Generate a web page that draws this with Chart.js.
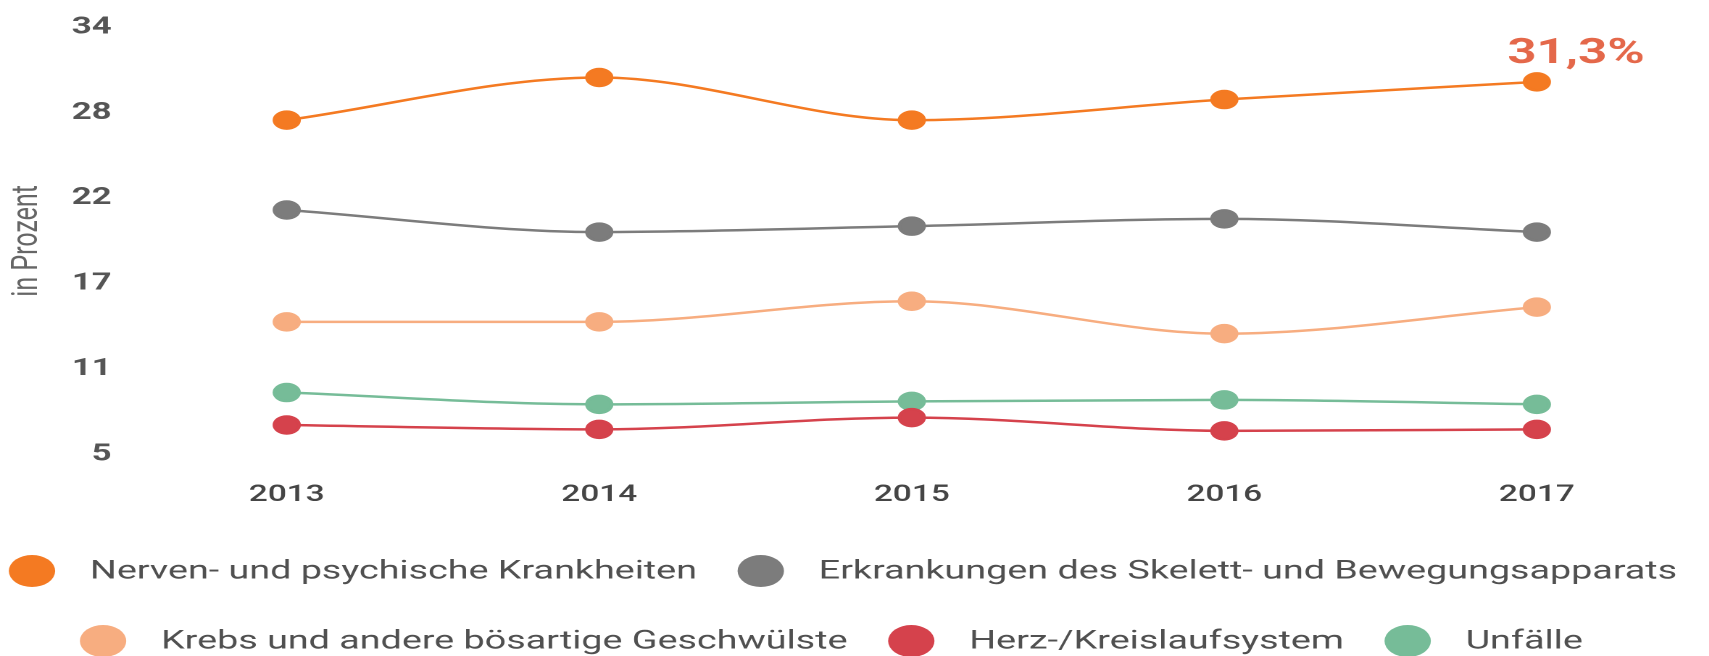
<!DOCTYPE html>
<html>
<head>
<meta charset="utf-8">
<script src="https://cdn.jsdelivr.net/npm/chart.js@4"></script>
<style>
  html, body { margin: 0; background: #fff; overflow: hidden; }
  /* the reference is stretched sideways, so draw narrow and stretch */
  #wrap { width: 1179px; height: 656px; transform: scaleX(1.4496); transform-origin: 0 0; }
</style>
</head>
<body>
<div id="wrap"><canvas id="chart"></canvas></div>
<script>
'use strict';

const years = ['2013', '2014', '2015', '2016', '2017'];
const nerven = [27.7, 30.6, 27.7, 29.1, 30.3];
const skelett = [21.6, 20.1, 20.5, 21.0, 20.1];
const krebs = [14.0, 14.0, 15.4, 13.2, 15.0];
const herz = [7.0, 6.7, 7.5, 6.6, 6.7];
const unfaelle = [9.2, 8.4, 8.6, 8.7, 8.4];
const yTickValues = [5, 10.8, 16.6, 22.4, 28.2, 34];
const yTickLabels = ['5', '11', '17', '22', '28', '34'];
const lastLabel = '31,3%';

const legendRows = [[0, 1], [2, 3, 4]];

function line(label, color, data) {
  return {
    label, data,
    borderColor: color, backgroundColor: color,
    pointBackgroundColor: color, pointBorderColor: color,
    borderWidth: 2.5, pointRadius: 8.5, pointHoverRadius: 8.5,
    cubicInterpolationMode: 'monotone'
  };
}

const endLabel = {
  id: 'endLabel',
  afterDatasetsDraw(chart) {
    const pts = chart.getDatasetMeta(0).data;
    const p = pts[pts.length - 1];
    const c = chart.ctx;
    c.save();
    c.font = 'bold 35px Roboto';
    c.fillStyle = '#e4684a';
    c.textAlign = 'center';
    c.textBaseline = 'alphabetic';
    c.fillText(lastLabel, p.x + 27, p.y - 19);
    c.restore();
  }
};

const dotLegend = {
  id: 'dotLegend',
  afterDraw(chart) {
    const c = chart.ctx;
    const ds = chart.data.datasets;
    const r = 16, textGap = 40, itemGap = 28;
    const rowY = [571, 641];
    c.save();
    c.font = '26px Roboto';
    c.textBaseline = 'middle';
    legendRows.forEach((row, ri) => {
      const widths = row.map(i => c.measureText(ds[i].label).width);
      let total = 0;
      widths.forEach((w, k) => { total += r + textGap + w + (k < row.length - 1 ? itemGap + r : 0); });
      let x = (chart.width - total) / 2;
      row.forEach((i, k) => {
        c.fillStyle = ds[i].borderColor;
        c.beginPath();
        c.arc(x + r, rowY[ri], r, 0, Math.PI * 2);
        c.fill();
        c.fillStyle = '#505050';
        c.fillText(ds[i].label, x + r + textGap, rowY[ri] + 1);
        x += r + textGap + widths[k] + itemGap;
      });
    });
    c.restore();
  }
};

new Chart(document.getElementById('chart'), {
  type: 'line',
  data: {
    labels: years,
    datasets: [
      line('Nerven- und psychische Krankheiten', '#f47a22', nerven),
      line('Erkrankungen des Skelett- und Bewegungsapparats', '#7c7c7c', skelett),
      line('Krebs und andere bösartige Geschwülste', '#f7ad80', krebs),
      line('Herz-/Kreislaufsystem', '#d5424c', herz),
      line('Unfälle', '#76bc98', unfaelle)
    ]
  },
  options: {
    responsive: true,
    maintainAspectRatio: false,
    animation: false,
    devicePixelRatio: 2,
    layout: { padding: { top: 19, right: 0, bottom: 120, left: 0 } },
    plugins: { legend: { display: false }, tooltip: { enabled: false } },
    scales: {
      x: {
        offset: true,
        grid: { display: false, drawTicks: false },
        border: { display: false },
        ticks: { padding: 27, color: '#454545', font: { family: 'Roboto', size: 23, weight: '500' } }
      },
      y: {
        min: 5, max: 34,
        grid: { display: false, drawTicks: false },
        border: { display: false },
        afterBuildTicks: s => { s.ticks = yTickValues.map(v => ({ value: v })); },
        afterFit: s => { s.width = 90; },
        ticks: {
          padding: 13, color: '#555',
          font: { family: 'Roboto', size: 24, weight: 'bold' },
          callback: (v, i) => yTickLabels[i]
        },
        title: {
          display: true, text: 'in Prozent', color: '#666',
          font: { family: 'Roboto', size: 25 },
          padding: { top: 4, bottom: 0 }
        }
      }
    }
  },
  plugins: [endLabel, dotLegend]
});
</script>
</body>
</html>
